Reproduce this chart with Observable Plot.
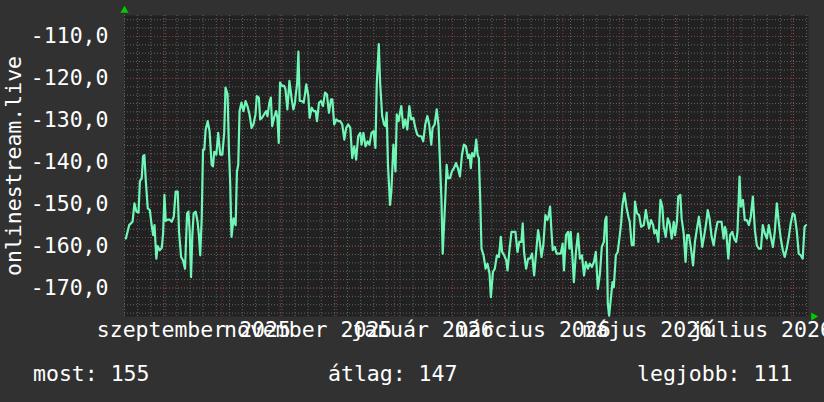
<!DOCTYPE html>
<html>
<head>
<meta charset="utf-8">
<script src="https://cdn.jsdelivr.net/npm/d3@7"></script>
<script src="https://cdn.jsdelivr.net/npm/@observablehq/plot@0.6"></script>
<style>
  html, body { margin: 0; padding: 0; background: #313131; }
  #wrap { width: 824px; height: 402px; position: relative; overflow: hidden; font-family: "DejaVu Sans Mono", monospace; color: #fff; }
  #stats { position: relative; height: 52px; font-size: 21.5px; }
  #stats span { position: absolute; top: 11px; white-space: pre; }
</style>
</head>
<body>
<div id="wrap"><div id="chart"></div><div id="stats"></div></div>
<script>
// ---- data (day offsets from 2025-08-10 UTC, signal values) ----
const startDate = "2025-08-10";
const endDate = "2026-08-10";
const days = [
  0.7,1.4,2.5,4.3,5.3,6.4,7.5,8.2,9.2,9.9,
  10.6,11.4,12.4,13.5,14.5,15.3,16.0,17.0,17.7,18.8,
  19.9,20.6,21.3,22.0,23.1,24.1,25.2,26.3,27.3,28.4,
  29.1,30.2,31.2,32.3,33.4,34.1,34.8,35.5,36.2,36.9,
  38.0,39.0,39.7,40.4,41.2,41.9,42.6,43.3,44.4,45.4,
  46.5,47.2,47.9,49.0,50.0,51.1,52.2,53.2,53.9,55.0,
  55.7,56.4,57.1,58.2,59.3,60.0,60.7,61.4,62.4,63.5,
  64.6,65.6,66.7,67.8,68.8,69.9,70.6,71.7,72.4,73.4,
  74.5,75.6,76.3,77.3,78.1,78.8,79.8,80.9,81.6,82.3,
  83.0,84.1,85.2,85.9,86.9,88.0,89.1,90.1,91.2,
  91.0,92.1,92.8,93.5,94.6,95.6,96.3,97.0,98.1,98.8,
  99.9,100.9,102.0,102.7,103.8,104.8,105.9,107.0,108.0,109.1,
  110.2,110.9,111.9,113.0,114.1,115.1,116.2,117.3,118.3,119.4,
  120.5,121.5,122.6,123.6,124.7,125.8,126.5,127.5,128.6,129.7,
  130.7,131.8,132.9,133.9,134.6,135.7,136.4,137.5,138.5,139.2,
  139.9,140.6,141.7,142.4,143.5,144.6,145.3,146.3,147.0,147.7,
  148.8,149.8,150.9,152.0,153.0,154.1,155.2,156.2,157.3,158.4,
  159.4,160.5,161.6,162.6,163.7,164.4,165.5,166.6,167.6,168.4,
  169.1,169.8,170.5,171.2,171.9,172.6,173.7,174.7,175.8,176.9,
  177.9,179.0,180.1,181.1,182.2,183.3,
  184.1,184.8,185.5,186.6,187.7,188.4,189.1,189.8,190.5,191.6,
  192.7,193.7,194.8,195.5,196.6,197.6,198.7,199.8,200.8,201.5,
  202.6,203.7,204.4,205.4,206.5,207.6,208.6,209.7,210.7,211.8,
  212.5,213.2,214.3,215.4,216.4,217.5,218.6,219.6,220.7,221.4,
  222.5,223.5,224.6,225.7,226.4,227.1,227.8,228.5,229.6,230.6,
  231.7,232.8,233.8,234.5,235.6,236.7,237.4,238.1,239.1,239.8,
  240.9,242.0,243.0,244.1,245.2,246.2,247.3,248.3,249.4,250.5,
  251.5,252.6,253.7,254.7,255.8,256.5,257.2,257.9,258.6,259.7,
  260.4,261.1,262.2,263.2,264.3,265.0,265.7,266.8,267.8,268.9,
  269.6,270.7,271.7,272.4,273.5,274.6,275.7,
  277.1,278.2,278.9,279.9,281.0,282.1,282.8,283.8,284.9,286.0,
  287.0,287.7,288.8,289.9,290.9,292.0,293.1,293.8,294.8,295.5,
  296.6,297.3,298.4,299.4,300.2,301.2,302.3,303.4,304.4,305.5,
  306.5,307.3,308.3,309.4,310.5,311.2,312.2,313.3,314.4,315.4,
  316.5,317.5,318.6,319.7,320.4,321.1,322.2,323.2,324.3,325.3,
  326.4,327.1,328.2,328.9,330.0,331.0,332.1,333.2,334.2,335.3,
  336.4,337.4,338.5,339.6,340.6,341.7,342.8,343.8,344.9,346.0,
  347.0,348.1,349.1,350.2,351.3,352.3,353.4,354.5,355.5,356.6,
  357.6,358.7,359.8,360.8,361.9,362.9,363.7
];
const values = [
  -158.2,-157,-155,-154.2,-149.8,-151.8,-152,-144.6,-143.8,-138.6,
  -138.3,-144.6,-151,-151.4,-155,-157.4,-155,-163,-160,-161,
  -160.4,-157,-147.8,-154,-153.7,-153.7,-154.2,-153,-147,-147,
  -156.6,-162.6,-163.4,-165.4,-152.2,-151.8,-156.6,-167.4,-157.4,-152.2,
  -151.8,-154.2,-157.4,-162.2,-153.4,-137,-137,-132.2,-130.2,-132.6,
  -140.6,-141,-137.5,-138.2,-133,-138.2,-138.2,-133,-122.2,-123.8,
  -136.6,-145,-157.8,-153.4,-155,-142.2,-140.6,-127.8,-125.8,-127.8,
  -125.4,-126.6,-128.6,-131.8,-131,-128.6,-124.2,-124.6,-129.8,-129.4,
  -128.6,-127.8,-129,-125.8,-124.6,-131.4,-129.4,-127.8,-129.4,-135.4,
  -121,-121.8,-121.8,-122.6,-127.4,-120.6,-124.6,-127.4,-124.6,
  -125.8,-121.4,-113.6,-125.4,-125.4,-125.8,-123.8,-121.4,-124.2,-129.4,
  -127,-127.8,-127.8,-130.2,-125.8,-125.4,-126.6,-123.4,-123.8,-128.2,
  -125,-125,-131,-129.8,-130.2,-130.2,-131,-134.6,-131.8,-131,
  -131.8,-139,-136.2,-139.4,-133.8,-133,-135.8,-133,-136.2,-135,
  -135.8,-133,-132.6,-136.6,-121.4,-111.8,-121,-129,-131,-131.4,
  -128.2,-140.6,-150.2,-147,-135.8,-142.2,-128.6,-130.2,-128.2,-126.6,
  -131.8,-129.8,-132.2,-126.6,-129.8,-129.4,-131.8,-133.4,-133.8,-133.8,
  -135,-131,-129,-131,-135.8,-131.8,-131,-127.4,-131.4,-140.6,
  -148.6,-161.8,-155,-148.6,-140.6,-143.8,-143.8,-142.2,-141.4,-140.2,
  -141.4,-143.4,-138.2,-135.8,-136.2,-139,
  -138.2,-141.4,-137.8,-138.6,-134.6,-138.2,-139,-148.6,-160.6,-162.2,
  -165.4,-164.2,-166.6,-172.2,-166.2,-165.4,-162.2,-162.6,-157.8,-161.4,
  -162.2,-163.4,-165.8,-161,-156.6,-156.6,-156.6,-161.4,-159,-159,
  -154.6,-161.4,-165.4,-163,-163,-161.8,-167,-161.8,-156.2,-158.2,
  -162.6,-159.8,-152.6,-153.8,-152.6,-150.6,-156.2,-161,-160.2,-161.8,
  -161.8,-161.8,-159.4,-165.8,-157.4,-156.6,-160.6,-156.6,-163,-168.6,
  -161.4,-157,-163,-162.2,-167,-163.8,-165.4,-164.2,-165,-163.8,
  -161.4,-170.2,-166.6,-160.2,-159,-153.8,-153,-173.8,-176.6,-171.8,
  -168.6,-169.8,-162.2,-161.4,-157.4,-154.6,-150.2,-147.4,-150.6,-153,
  -154.2,-159.8,-159.8,-149.4,-152.2,-152.6,-155.4,
  -155,-151.4,-153.4,-155.8,-153.8,-155,-157,-156.2,-159,-149,
  -150.6,-155.4,-157.8,-153.4,-154.6,-158.2,-154.2,-157.4,-154.2,-148.2,
  -147.8,-153.4,-157,-163.8,-157.4,-157.4,-160.6,-164.6,-159,-155.8,
  -153,-155.8,-160.2,-157.4,-154.2,-151.4,-153.4,-157.8,-159.8,-156.6,
  -154.2,-154.2,-154.2,-158.2,-155.4,-156.6,-163,-157.4,-156.6,-158.2,
  -159,-156.6,-143.4,-150.6,-149,-153.8,-153.8,-155,-153,-148.2,
  -156.2,-159.8,-160.6,-160.6,-155,-157,-158.2,-155,-157.8,-160.2,
  -156.6,-149.8,-154.2,-158.2,-161,-162.6,-160.6,-157.8,-154.6,-152.2,
  -152.6,-156.2,-161.8,-162.2,-163,-155.4,-155
];
const yTicks = [-170, -160, -150, -140, -130, -120, -110];
const xTickDates = ["2025-09-16", "2025-11-16", "2026-01-16", "2026-03-16", "2026-05-16", "2026-07-16"];
const xTickLabels = ["szeptember 2025", "november 2025", "január 2026", "március 2026", "május 2026", "július 2026"];
const yLabel = "onlinestream.live";
const statNames = ["most", "átlag", "legjobb"];
const statValues = [155, 147, 111];

// ---- build ----
const t0 = new Date(startDate + "T00:00:00Z");
const t1 = new Date(endDate + "T00:00:00Z");
const n = Math.min(days.length, values.length);
const data = [];
for (let i = 0; i < n; i++) data.push({t: new Date(t0.getTime() + days[i] * 864e5), v: values[i]});
data.sort((a, b) => a.t - b.t);

const yMinor = d3.range(-176, -105, 2);
const weeks = d3.utcSunday.range(t0, t1);
const months = d3.utcMonth.range(t0, t1);
const tickDates = xTickDates.map(s => new Date(s + "T00:00:00Z"));
const labelOf = new Map(tickDates.map((d, i) => [d.getTime(), xTickLabels[i]]));
const FS = 21.5;

const chart = Plot.plot({
  width: 824,
  height: 350,
  marginLeft: 124,
  marginRight: 16,
  marginTop: 15,
  marginBottom: 34,
  style: {background: "transparent", color: "#fff", fontFamily: "DejaVu Sans Mono", fontSize: FS + "px", overflow: "visible"},
  x: {type: "utc", domain: [t0, t1]},
  y: {domain: [-176.8, -105]},
  marks: [
    Plot.frame({fill: "#212121", stroke: null}),
    Plot.gridY(yMinor, {stroke: "#636363", strokeOpacity: 1, strokeDasharray: "1,2"}),
    Plot.gridX(weeks, {stroke: "#636363", strokeOpacity: 1, strokeDasharray: "1,2"}),
    Plot.gridY(yTicks, {stroke: "#8a3a3a", strokeOpacity: 1, strokeDasharray: "1,2"}),
    Plot.gridX(months, {stroke: "#8a3a3a", strokeOpacity: 1, strokeDasharray: "1,2"}),
    Plot.axisY(yTicks, {tickSize: 0, tickPadding: 16, label: null, fill: "#fff", fontSize: FS,
      tickFormat: d => d.toFixed(1).replace(".", ",")}),
    Plot.axisX(tickDates, {tickSize: 0, tickPadding: 5, label: null, fill: "#fff", fontSize: FS,
      tickFormat: d => labelOf.get(d.getTime())}),
    Plot.line(data, {x: "t", y: "v", stroke: "#70f6b6", strokeWidth: 2.2}),
    Plot.text([yLabel], {text: d => d, frameAnchor: "left", textAnchor: "middle", rotate: -90, dx: -110, fill: "#fff", fontSize: FS}),
    Plot.dot([0], {frameAnchor: "top-left", symbol: "triangle", r: 3, fill: "#00cc00", stroke: null, dy: -5}),
    Plot.dot([0], {frameAnchor: "bottom-right", symbol: "triangle", r: 3, fill: "#00cc00", stroke: null, dx: 5, rotate: 90})
  ]
});
document.getElementById("chart").appendChild(chart);

const stats = document.getElementById("stats");
const statLeft = [33, 328, 637];
statNames.forEach((name, i) => {
  const s = document.createElement("span");
  s.textContent = name + ": " + statValues[i];
  s.style.left = statLeft[i] + "px";
  stats.appendChild(s);
});
</script>
</body>
</html>
